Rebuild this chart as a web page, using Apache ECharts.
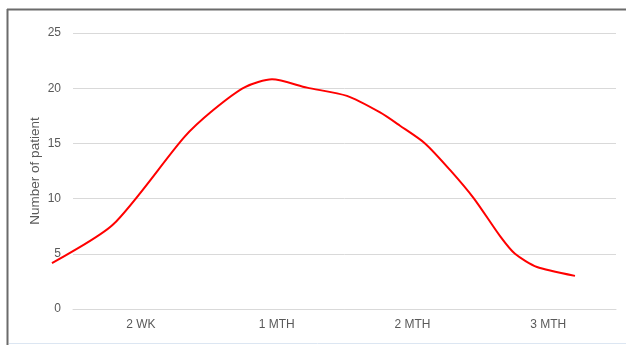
<!DOCTYPE html>
<html>
<head>
<meta charset="utf-8">
<script src="https://cdn.jsdelivr.net/npm/echarts@6/dist/echarts.min.js"></script>
<style>
html,body{margin:0;padding:0;background:#fff;}
#chart{width:626px;height:345px;}
</style>
</head>
<body>
<div id="chart"></div>
<script>
// Category labels along the x axis
var categories = ['2 WK', '1 MTH', '2 MTH', '3 MTH'];
// Y axis ticks
var yMin = 0, yMax = 25, yStep = 5;
var yTitle = 'Number of patient';
// Curve points: position in category units (0 = left edge of plot, 4 = right edge)
var curveX = [-0.155, 0.295, 0.818, 1.031, 1.267, 1.466, 1.724, 2.018, 2.262, 2.409, 2.593, 2.777, 2.954, 3.146, 3.256, 3.418, 3.698];
var curveY = [4.15, 7.65, 15.55, 18.0, 20.1, 20.8, 20.05, 19.3, 17.8, 16.6, 15.0, 12.6, 10.0, 6.6, 5.0, 3.8, 3.0];

var points = curveX.map(function (x, i) { return [x, curveY[i]]; });

var W = 626, GL = 73, GR = 10, GT = 33, GB = 36;
var unitPx = (W - GL - GR) / categories.length;

var chart = echarts.init(document.getElementById('chart'), null, {renderer: 'canvas'});
var font = "'Liberation Sans', Arial, sans-serif";
chart.setOption({
  animation: false,
  backgroundColor: '#ffffff',
  grid: [
    {left: GL, right: GR, top: GT, bottom: GB},
    {left: 0, right: 0, top: GT, bottom: GB}
  ],
  xAxis: [{
    type: 'category',
    gridIndex: 0,
    data: categories,
    boundaryGap: true,
    axisLine: {show: true, lineStyle: {color: '#d9d9d9', width: 1}},
    axisTick: {show: false},
    axisLabel: {color: '#595959', fontSize: 12, fontFamily: font, margin: 10},
    splitLine: {show: false}
  }, {
    type: 'value',
    gridIndex: 1,
    min: -GL / unitPx,
    max: categories.length + GR / unitPx,
    show: false
  }],
  yAxis: [{
    type: 'value',
    gridIndex: 0,
    min: yMin, max: yMax, interval: yStep,
    name: yTitle,
    nameLocation: 'middle',
    nameGap: 31,
    nameMoveOverlap: false,
    nameTextStyle: {color: '#595959', fontSize: 13.5, fontFamily: font},
    axisLine: {show: false},
    axisTick: {show: false},
    axisLabel: {color: '#595959', fontSize: 12, fontFamily: font, margin: 12},
    splitLine: {lineStyle: {color: '#d9d9d9', width: 1}}
  }, {
    type: 'value',
    gridIndex: 1,
    min: yMin, max: yMax, interval: yStep,
    show: false
  }],
  series: [{
    type: 'line',
    xAxisIndex: 1,
    yAxisIndex: 1,
    data: points,
    smooth: 0.25,
    clip: false,
    symbol: 'none',
    lineStyle: {color: '#ff0000', width: 2}
  }],
  graphic: [
    {type: 'line', shape: {x1: 7, y1: 9.5, x2: 626, y2: 9.5}, style: {stroke: '#6b6b6b', lineWidth: 2}, silent: true},
    {type: 'line', shape: {x1: 7.5, y1: 9, x2: 7.5, y2: 345}, style: {stroke: '#6b6b6b', lineWidth: 2}, silent: true},
    {type: 'line', shape: {x1: 9, y1: 343.5, x2: 626, y2: 343.5}, style: {stroke: '#dce6f2', lineWidth: 1}, silent: true}
  ]
});
</script>
</body>
</html>
